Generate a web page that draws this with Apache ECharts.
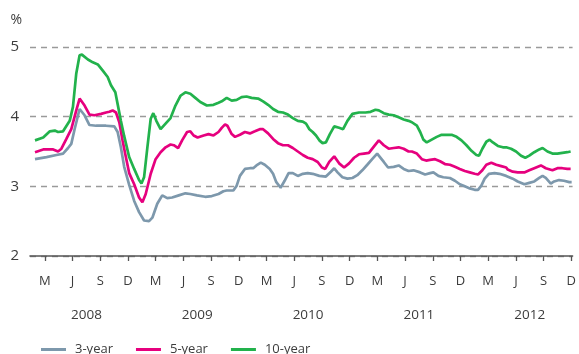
<!DOCTYPE html>
<html>
<head>
<meta charset="utf-8">
<script src="https://cdn.jsdelivr.net/npm/echarts@6/dist/echarts.min.js"></script>
<style>
  html, body { margin: 0; padding: 0; background: #fff; }
  #chart { width: 579px; height: 354px; }
</style>
</head>
<body>
<div id="chart"></div>
<script>
// Government bond yields, % — x is months counted from January 2008 (0 = 1 Jan 2008)
const seriesNames = ['3-year', '5-year', '10-year'];

const threeYear = [
  [0.93,3.39],[2.18,3.42],[3.25,3.45],[3.97,3.47],[4.51,3.55],[4.86,3.61],[5.22,3.82],[5.76,4.11],[5.94,4.11],
  [6.30,4.02],[6.83,3.88],[7.55,3.87],[8.62,3.87],[9.52,3.86],[9.88,3.78],[10.23,3.56],[10.59,3.28],[11.13,3.02],
  [11.67,2.79],[12.20,2.63],[12.74,2.51],[13.28,2.50],[13.64,2.55],[14.17,2.75],[14.71,2.87],[15.25,2.83],[15.78,2.84],
  [16.50,2.87],[17.22,2.90],[17.75,2.89],[18.47,2.87],[19.36,2.85],[20.08,2.86],[20.80,2.89],[21.33,2.93],[21.69,2.94],
  [22.41,2.94],[22.77,3.01],[23.12,3.15],[23.66,3.25],[24.20,3.26],[24.56,3.26],[24.91,3.30],[25.38,3.34],[25.81,3.31],
  [26.35,3.25],[26.71,3.18],[27.06,3.06],[27.53,2.98],[27.96,3.08],[28.39,3.19],[28.85,3.19],[29.39,3.15],[29.93,3.18],
  [30.46,3.19],[31.00,3.18],[31.72,3.15],[32.43,3.14],[32.97,3.21],[33.33,3.26],[33.69,3.20],[34.22,3.13],[34.76,3.11],
  [35.30,3.12],[35.83,3.16],[36.37,3.23],[36.91,3.31],[37.44,3.39],[37.98,3.47],[38.16,3.46],[38.70,3.35],[39.16,3.27],
  [39.77,3.28],[40.31,3.30],[40.85,3.25],[41.38,3.22],[41.92,3.23],[42.64,3.20],[43.17,3.17],[43.71,3.19],[44.07,3.20],
  [44.61,3.15],[45.14,3.13],[45.86,3.12],[46.40,3.08],[46.93,3.03],[47.47,3.00],[48.01,2.97],[48.54,2.95],[48.90,2.95],
  [49.26,3.01],[49.62,3.11],[50.08,3.18],[50.69,3.19],[51.23,3.18],[51.95,3.15],[52.12,3.14],[52.66,3.11],[53.20,3.07],
  [53.92,3.03],[54.45,3.05],[54.99,3.07],[55.53,3.12],[55.89,3.15],[56.24,3.12],[56.78,3.04],[57.14,3.07],[57.67,3.09],
  [58.21,3.08],[58.78,3.06],[59.04,3.06]
];

const fiveYear = [
  [0.93,3.49],[1.82,3.53],[2.90,3.53],[3.43,3.50],[3.79,3.54],[4.33,3.68],[4.86,3.82],[5.40,4.09],[5.76,4.26],
  [5.94,4.27],[6.30,4.16],[6.83,4.03],[7.37,4.02],[8.09,4.04],[8.62,4.06],[8.98,4.07],[9.34,4.09],[9.70,4.06],
  [10.06,3.92],[10.41,3.66],[10.77,3.42],[11.13,3.19],[11.67,3.03],[12.20,2.84],[12.56,2.77],[12.92,2.89],[13.46,3.18],
  [13.99,3.39],[14.53,3.49],[15.07,3.56],[15.61,3.60],[15.96,3.59],[16.43,3.55],[16.86,3.66],[17.40,3.78],[17.75,3.79],
  [18.11,3.73],[18.54,3.70],[19.19,3.73],[19.72,3.75],[20.26,3.73],[20.80,3.78],[21.15,3.84],[21.51,3.89],[21.76,3.87],
  [22.23,3.75],[22.59,3.71],[23.12,3.74],[23.66,3.78],[24.20,3.76],[24.74,3.79],[25.27,3.82],[25.63,3.82],[26.17,3.76],
  [26.71,3.68],[27.24,3.62],[27.78,3.59],[28.32,3.59],[28.85,3.55],[29.39,3.50],[29.93,3.45],[30.46,3.41],[31.00,3.39],
  [31.54,3.35],[32.00,3.27],[32.36,3.25],[32.79,3.35],[33.33,3.43],[33.86,3.33],[34.40,3.27],[34.94,3.33],[35.48,3.41],
  [36.01,3.46],[36.55,3.47],[37.09,3.48],[37.62,3.57],[38.16,3.66],[38.70,3.59],[39.23,3.54],[39.77,3.55],[40.31,3.56],
  [40.85,3.54],[41.38,3.50],[41.74,3.50],[42.28,3.47],[42.82,3.39],[43.28,3.37],[43.71,3.38],[44.25,3.39],[44.79,3.36],
  [45.32,3.32],[45.86,3.31],[46.40,3.28],[46.93,3.25],[47.47,3.22],[48.01,3.20],[48.54,3.18],[48.90,3.17],[49.37,3.23],
  [49.80,3.31],[50.34,3.34],[50.87,3.31],[51.41,3.29],[51.95,3.27],[52.12,3.24],[52.66,3.21],[53.20,3.20],[53.92,3.20],
  [54.45,3.23],[54.99,3.26],[55.71,3.30],[56.24,3.26],[56.96,3.23],[57.50,3.26],[58.03,3.26],[58.57,3.25],[58.93,3.25]
];

const tenYear = [
  [0.93,3.66],[1.82,3.70],[2.54,3.79],[3.07,3.80],[3.43,3.78],[3.97,3.79],[4.69,3.94],[5.04,4.14],[5.40,4.62],
  [5.76,4.88],[6.01,4.89],[6.66,4.82],[7.19,4.78],[7.73,4.75],[8.27,4.66],[8.80,4.57],[9.16,4.45],[9.63,4.35],
  [9.88,4.18],[10.23,3.94],[10.59,3.72],[11.13,3.42],[11.67,3.25],[12.20,3.09],[12.46,3.04],[12.74,3.13],[13.10,3.56],
  [13.46,3.97],[13.74,4.05],[14.07,3.94],[14.53,3.82],[15.07,3.90],[15.61,3.98],[16.14,4.16],[16.68,4.30],[17.22,4.35],
  [17.75,4.33],[18.29,4.27],[18.83,4.21],[19.54,4.16],[20.26,4.17],[20.80,4.20],[21.15,4.22],[21.69,4.27],[22.23,4.23],
  [22.77,4.24],[23.30,4.28],[23.84,4.29],[24.38,4.27],[25.09,4.26],[25.63,4.22],[26.17,4.17],[26.71,4.11],[27.24,4.07],
  [27.78,4.06],[28.32,4.03],[28.85,3.98],[29.39,3.94],[29.93,3.93],[30.28,3.90],[30.64,3.82],[31.00,3.78],[31.36,3.73],
  [31.72,3.66],[32.07,3.62],[32.43,3.63],[32.86,3.75],[33.33,3.86],[33.86,3.84],[34.29,3.82],[34.76,3.94],[35.30,4.04],
  [36.01,4.06],[36.73,4.06],[37.27,4.07],[37.80,4.10],[38.16,4.09],[38.70,4.05],[39.23,4.03],[39.77,4.02],[40.31,3.99],
  [40.85,3.96],[41.38,3.94],[41.74,3.92],[42.28,3.87],[42.64,3.78],[42.99,3.67],[43.35,3.63],[43.89,3.67],[44.43,3.71],
  [44.96,3.74],[45.50,3.74],[46.04,3.74],[46.58,3.71],[47.11,3.66],[47.65,3.59],[48.19,3.51],[48.72,3.45],[49.01,3.44],
  [49.37,3.54],[49.80,3.64],[50.16,3.67],[50.51,3.63],[51.05,3.58],[51.59,3.56],[51.95,3.56],[52.48,3.54],[53.02,3.50],
  [53.56,3.44],[54.02,3.41],[54.45,3.44],[54.99,3.49],[55.53,3.53],[55.89,3.55],[56.42,3.50],[56.96,3.47],[57.50,3.47],
  [58.03,3.48],[58.57,3.49],[58.93,3.50]
];

// Quarterly tick labels: March, June, September, December of 2008–2012
const monthTickLabels = ['M','J','S','D','M','J','S','D','M','J','S','D','M','J','S','D','M','J','S','D'];
const yearLabels = ['2008', '2009', '2010', '2011', '2012'];

const monthTickPos = monthTickLabels.map((_, i) => 2 + 3 * i);      // 1 Mar 2008, 1 Jun 2008, ...
const yearLabelPos = yearLabels.map((_, i) => 6.5 + 12 * i);        // centred between J and S ticks

const colors = ['#7d98ac', '#e6007e', '#22b24c'];
const textColor = '#3c3c3c';
const FONT = '"Open Sans", "Noto Sans", sans-serif';

const xMin = 0.39, xMax = 59.14;

const chart = echarts.init(document.getElementById('chart'), null, { renderer: 'canvas' });
chart.setOption({
  animation: false,
  color: colors,
  textStyle: { fontFamily: FONT },
  grid: { left: 30, right: 1, top: 47, bottom: 98 },
  legend: {
    data: seriesNames,
    left: 36,
    top: 338,
    itemWidth: 25,
    itemHeight: 12,
    itemGap: 23,
    icon: 'path://M0,4.5 L25,4.5 L25,7.5 L0,7.5 Z',
    textStyle: { color: textColor, fontSize: 13, fontFamily: FONT, padding: [0, 0, 0, 4] }
  },
  xAxis: [
    {
      type: 'value',
      min: xMin,
      max: xMax,
      splitLine: { show: false },
      axisLine: { show: true, lineStyle: { color: '#555', width: 1.6 } },
      axisTick: { show: true, customValues: monthTickPos, length: 5, lineStyle: { color: '#555', width: 1.3 } },
      axisLabel: {
        customValues: monthTickPos,
        margin: 19,
        color: textColor,
        fontSize: 13,
        fontFamily: FONT,
        formatter: (v) => monthTickLabels[Math.round((v - 2) / 3)]
      }
    },
    {
      type: 'value',
      position: 'bottom',
      min: xMin,
      max: xMax,
      splitLine: { show: false },
      axisLine: { show: false },
      axisTick: { show: false },
      axisLabel: {
        customValues: yearLabelPos,
        margin: 52,
        color: textColor,
        fontSize: 13.5,
        fontFamily: FONT,
        formatter: (v) => yearLabels[Math.round((v - 6.5) / 12)]
      }
    }
  ],
  yAxis: {
    type: 'value',
    min: 2,
    max: 5,
    interval: 1,
    name: '%',
    nameLocation: 'end',
    nameGap: 27,
    nameTextStyle: { color: textColor, fontSize: 14, fontFamily: FONT, align: 'right', verticalAlign: 'middle', padding: [0, 8, 0, 0] },
    axisLine: { show: false },
    axisTick: { show: false },
    axisLabel: { color: textColor, fontSize: 15, fontFamily: FONT, margin: 11 },
    splitLine: { show: true, lineStyle: { color: '#9a9a9a', width: 1.3, type: [6, 5] } }
  },
  series: [
    { name: seriesNames[0], type: 'line', data: threeYear, symbol: 'none', lineStyle: { width: 2.7 }, z: 2 },
    { name: seriesNames[1], type: 'line', data: fiveYear, symbol: 'none', lineStyle: { width: 2.7 }, z: 3 },
    { name: seriesNames[2], type: 'line', data: tenYear, symbol: 'none', lineStyle: { width: 2.7 }, z: 4 }
  ]
});
</script>
</body>
</html>
